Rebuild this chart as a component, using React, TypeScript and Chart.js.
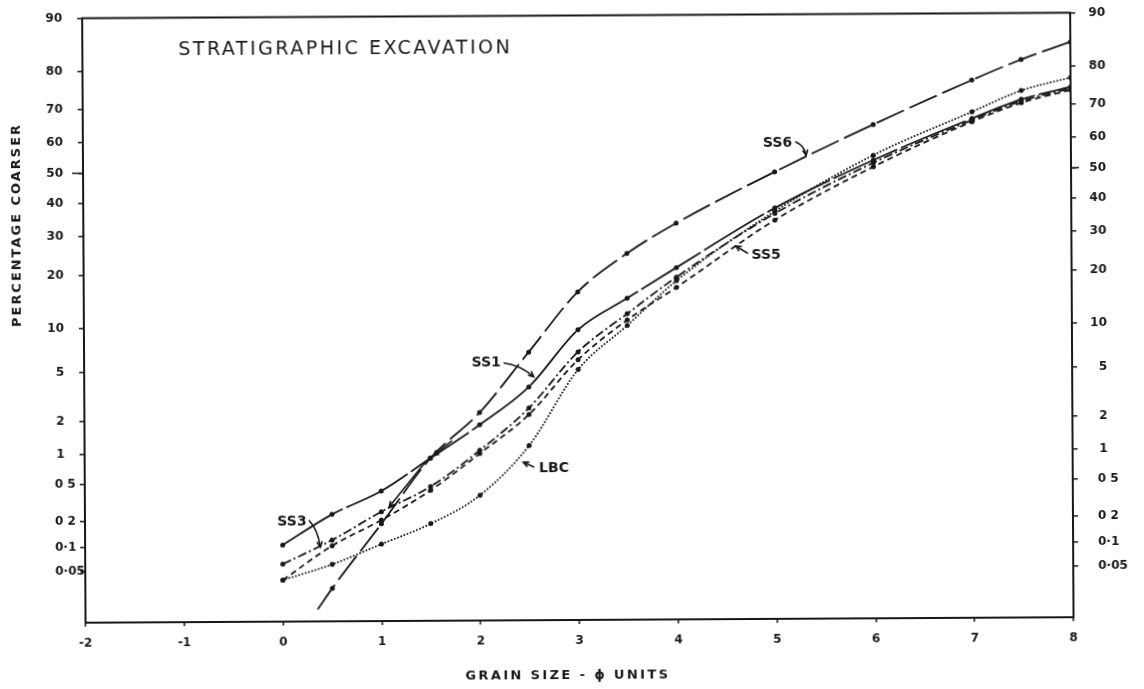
import { useEffect, useRef } from 'react';
import { Chart, registerables } from 'chart.js';

Chart.register(...registerables);

const INK = '#181818';
const FAMILY = '"DejaVu Sans", "Liberation Sans", sans-serif';

// Sieve sizes (phi units) at which the samples were weighed
const PHI_STEPS = [0, 0.5, 1, 1.5, 2, 2.5, 3, 3.5, 4, 5, 6, 7, 7.5, 8];
const SS6_PHI = [0.35, 0.5, 1, 1.5, 2, 2.5, 3, 3.5, 4, 5, 6, 7, 7.5, 8];

// Cumulative percentage coarser for each sample
const SS6 = [0.015, 0.029, 0.18, 0.89, 2.3, 6.7, 15.8, 24.6, 33, 49.2, 64.3, 76.7, 81.5, 85.1];
const SS1 = [0.103, 0.232, 0.414, 0.89, 1.8, 3.7, 9.4, 14.5, 21, 37.5, 52.9, 66, 71.5, 74.8];
const SS3 = [0.06, 0.117, 0.247, 0.46, 1.05, 2.5, 6.7, 11.8, 18.8, 35.8, 52, 65.5, 71, 74.4];
const SS5 = [0.0375, 0.1, 0.199, 0.42, 0.98, 2.2, 5.9, 10.8, 16.6, 33.8, 50.7, 65, 70.5, 74];
const LBC = [0.0375, 0.059, 0.104, 0.18, 0.37, 1.16, 5.0, 10.0, 18, 36.5, 54.5, 68, 73.9, 77.2];

// Probability axis: tick values (percent) and their printed labels
const TICK_PCT = [90, 80, 70, 60, 50, 40, 30, 20, 10, 5, 2, 1, 0.5, 0.2, 0.1, 0.05];
const TICK_LABELS = ['90', '80', '70', '60', '50', '40', '30', '20', '10', '5', '2', '1', '0 5', '0 2', '0·1', '0·05'];

// Grain-size axis
const PHI_TICKS = [-2, -1, 0, 1, 2, 3, 4, 5, 6, 7, 8];
const PHI_LABELS = ['-2', '-1', '0', '1', '2', '3', '4', '5', '6', '7', '8'];

const TITLE = 'STRATIGRAPHIC EXCAVATION';
const X_TITLE = 'GRAIN SIZE - ϕ UNITS';
const Y_TITLE = 'PERCENTAGE COARSER';

// Inverse of the standard normal CDF (Acklam's rational approximation)
function probit(p: number): number {
  const a = [-3.969683028665376e1, 2.209460984245205e2, -2.759285104469687e2, 1.38357751867269e2, -3.066479806614716e1, 2.506628277459239];
  const b = [-5.447609879822406e1, 1.615858368580409e2, -1.556989798598866e2, 6.680131188771972e1, -1.328068155288572e1];
  const c = [-7.784894002430293e-3, -3.223964580411365e-1, -2.400758277161838, -2.549732539343734, 4.374664141464968, 2.938163982698783];
  const d = [7.784695709041462e-3, 3.224671290700398e-1, 2.445134137142996, 3.754408661907416];
  const pl = 0.02425;
  if (p < pl) {
    const q = Math.sqrt(-2 * Math.log(p));
    return (((((c[0] * q + c[1]) * q + c[2]) * q + c[3]) * q + c[4]) * q + c[5]) / ((((d[0] * q + d[1]) * q + d[2]) * q + d[3]) * q + 1);
  }
  if (p <= 1 - pl) {
    const q = p - 0.5;
    const r = q * q;
    return ((((((a[0] * r + a[1]) * r + a[2]) * r + a[3]) * r + a[4]) * r + a[5]) * q) / (((((b[0] * r + b[1]) * r + b[2]) * r + b[3]) * r + b[4]) * r + 1);
  }
  const q = Math.sqrt(-2 * Math.log(1 - p));
  return -(((((c[0] * q + c[1]) * q + c[2]) * q + c[3]) * q + c[4]) * q + c[5]) / ((((d[0] * q + d[1]) * q + d[2]) * q + d[3]) * q + 1);
}

const Z_MAX = probit(0.9);
const Z_MIN = Z_MAX - 4.996;

// Curve names written beside the lines, with hand-drawn pointer arrows (phi, percent)
const TAGS = [
  { text: 'SS6', phi: 5.03, pct: 58.6, arrow: [[5.21, 59.0], [5.3, 58.0], [5.32, 54.6]] },
  { text: 'SS5', phi: 4.91, pct: 24.0, arrow: [[4.725, 24.4], [4.603, 26.4]] },
  { text: 'SS1', phi: 2.07, pct: 5.63, arrow: [[2.246, 5.64], [2.414, 5.42], [2.55, 4.44]] },
  { text: 'LBC', phi: 2.75, pct: 0.69, arrow: [[2.551, 0.716], [2.44, 0.8]] },
  { text: 'SS3', phi: 0.095, pct: 0.191, arrow: [[0.267, 0.2], [0.358, 0.154], [0.38, 0.097]] },
];
const EXTRA_ARROWS = [
  [[1.45, 0.82], [1.08, 0.28]],
  [[1.72, 1.3], [1.53, 0.94]],
];

const toPoints = (phis: number[], pcts: number[]) => pcts.map((p, i) => ({ x: phis[i], y: probit(p / 100) }));

function arrowHead(ctx: CanvasRenderingContext2D, fx: number, fy: number, tx: number, ty: number, len = 6) {
  const ang = Math.atan2(ty - fy, tx - fx);
  ctx.beginPath();
  ctx.moveTo(tx - len * Math.cos(ang - 0.45), ty - len * Math.sin(ang - 0.45));
  ctx.lineTo(tx, ty);
  ctx.lineTo(tx - len * Math.cos(ang + 0.45), ty - len * Math.sin(ang + 0.45));
  ctx.stroke();
}

function spacedText(ctx: CanvasRenderingContext2D, text: string, x: number, y: number, width: number, align: 'left' | 'center') {
  const c = ctx as any;
  c.letterSpacing = '0px';
  const w = ctx.measureText(text).width;
  const ls = (width - w) / text.length;
  c.letterSpacing = `${ls}px`;
  ctx.textAlign = 'left';
  const startX = align === 'center' ? x - width / 2 : x;
  ctx.fillText(text, startX, y);
  c.letterSpacing = '0px';
}

const decor = {
  id: 'decor',
  afterDatasetsDraw(chart: any) {
    const { ctx, chartArea: a, scales } = chart;
    const px = (phi: number) => scales.x.getPixelForValue(phi);
    const py = (pct: number) => scales.y.getPixelForValue(probit(pct / 100));
    ctx.save();
    ctx.strokeStyle = INK;
    ctx.fillStyle = INK;

    // plot frame
    ctx.lineWidth = 2;
    ctx.strokeRect(a.left, a.top, a.right - a.left, a.bottom - a.top);
    const y50 = py(50);
    ctx.lineWidth = 1.5;
    ctx.beginPath();
    ctx.moveTo(a.left - 11, y50);
    ctx.lineTo(a.left, y50);
    ctx.moveTo(a.right, y50);
    ctx.lineTo(a.right + 8, y50);
    ctx.stroke();

    // probability tick labels, both sides
    ctx.font = `bold 12px ${FAMILY}`;
    ctx.textBaseline = 'middle';
    TICK_PCT.forEach((p, i) => {
      const y = py(p);
      const t = TICK_LABELS[i];
      const dec = p < 1;
      ctx.textAlign = dec ? 'left' : 'right';
      ctx.fillText(t, dec ? a.left - 30 : a.left - 20, y);
      ctx.fillText(t, dec ? a.right + 25 : a.right + 35, y);
    });

    // grain-size tick labels
    ctx.font = `bold 12px ${FAMILY}`;
    ctx.textAlign = 'center';
    PHI_TICKS.forEach((v, i) => ctx.fillText(PHI_LABELS[i], px(v), a.bottom + 21));

    // titles
    ctx.font = `19px ${FAMILY}`;
    spacedText(ctx, TITLE, 180, 48.5, 334, 'left');
    ctx.font = `bold 13px ${FAMILY}`;
    spacedText(ctx, X_TITLE, 566, 676, 205, 'center');
    ctx.save();
    ctx.translate(18, 222);
    ctx.rotate(-Math.PI / 2);
    ctx.font = `bold 13px ${FAMILY}`;
    spacedText(ctx, Y_TITLE, 0, 0, 204, 'center');
    ctx.restore();

    // curve tags and pointers
    ctx.font = `bold 14px ${FAMILY}`;
    ctx.textAlign = 'center';
    ctx.lineWidth = 1.6;
    const drawArrow = (pts: number[][]) => {
      const xy = pts.map(([f, p]) => [px(f), py(p)]);
      ctx.beginPath();
      ctx.moveTo(xy[0][0], xy[0][1]);
      if (xy.length === 3) ctx.quadraticCurveTo(xy[1][0], xy[1][1], xy[2][0], xy[2][1]);
      else ctx.lineTo(xy[1][0], xy[1][1]);
      ctx.stroke();
      const n = xy.length;
      arrowHead(ctx, xy[n - 2][0], xy[n - 2][1], xy[n - 1][0], xy[n - 1][1]);
    };
    TAGS.forEach((t) => {
      ctx.fillText(t.text, px(t.phi), py(t.pct));
      drawArrow(t.arrow);
    });
    EXTRA_ARROWS.forEach(drawArrow);
    ctx.restore();
  },
};

function series(phis: number[], pcts: number[], dash: number[], opts: any = {}) {
  return {
    data: toPoints(phis, pcts),
    borderColor: INK,
    borderWidth: 1.8,
    borderDash: dash,
    pointRadius: phis.map((f) => (f === 0.35 ? 0 : 2.5)),
    pointBackgroundColor: INK,
    pointBorderWidth: 0,
    cubicInterpolationMode: 'monotone',
    fill: false,
    ...opts,
  };
}

export default function App() {
  const ref = useRef<HTMLCanvasElement>(null);
  useEffect(() => {
    const yAxis = (side: 'left' | 'right', width: number) => ({
      type: 'linear',
      position: side,
      display: true,
      min: Z_MIN,
      max: Z_MAX,
      afterBuildTicks: (s: any) => {
        s.ticks = TICK_PCT.map((p) => ({ value: probit(p / 100) }));
      },
      afterFit: (s: any) => {
        s.width = width;
      },
      ticks: { display: false },
      grid: { drawOnChartArea: false, drawTicks: true, tickLength: 5, color: INK, lineWidth: 1.5 },
      border: { display: false },
    });
    const chart = new Chart(ref.current as HTMLCanvasElement, {
      type: 'line',
      data: {
        datasets: [
          series(SS6_PHI, SS6, [30, 6]),
          series(PHI_STEPS, SS1, [70, 4]),
          series(PHI_STEPS, SS3, [9, 3, 2, 3]),
          series(PHI_STEPS, SS5, [6, 4]),
          series(PHI_STEPS, LBC, [0.01, 3.4], { borderCapStyle: 'round', borderWidth: 2 }),
        ] as any,
      },
      options: {
        animation: false,
        responsive: true,
        maintainAspectRatio: false,
        layout: { padding: { top: 15.5, left: 0, right: 0, bottom: 0 } },
        plugins: { legend: { display: false }, tooltip: { enabled: false }, title: { display: false } },
        scales: {
          x: {
            type: 'linear',
            min: -2,
            max: 8,
            ticks: { display: false, stepSize: 1 },
            afterFit: (s: any) => {
              s.height = 69;
            },
            grid: { drawOnChartArea: false, drawTicks: true, tickLength: 4, color: INK, lineWidth: 1.5 },
            border: { display: false },
          },
          y: yAxis('left', 84),
          y2: yAxis('right', 72),
        } as any,
      },
      plugins: [decor],
    });
    return () => chart.destroy();
  }, []);

  return (
    <div
      style={{
        position: 'fixed',
        left: 0,
        top: 0,
        width: 1144,
        height: 689,
        background: '#fff',
        transform: 'rotate(-0.32deg)',
        transformOrigin: '572px 344.5px',
      }}
    >
      <canvas ref={ref} style={{ display: 'block' }} />
    </div>
  );
}
